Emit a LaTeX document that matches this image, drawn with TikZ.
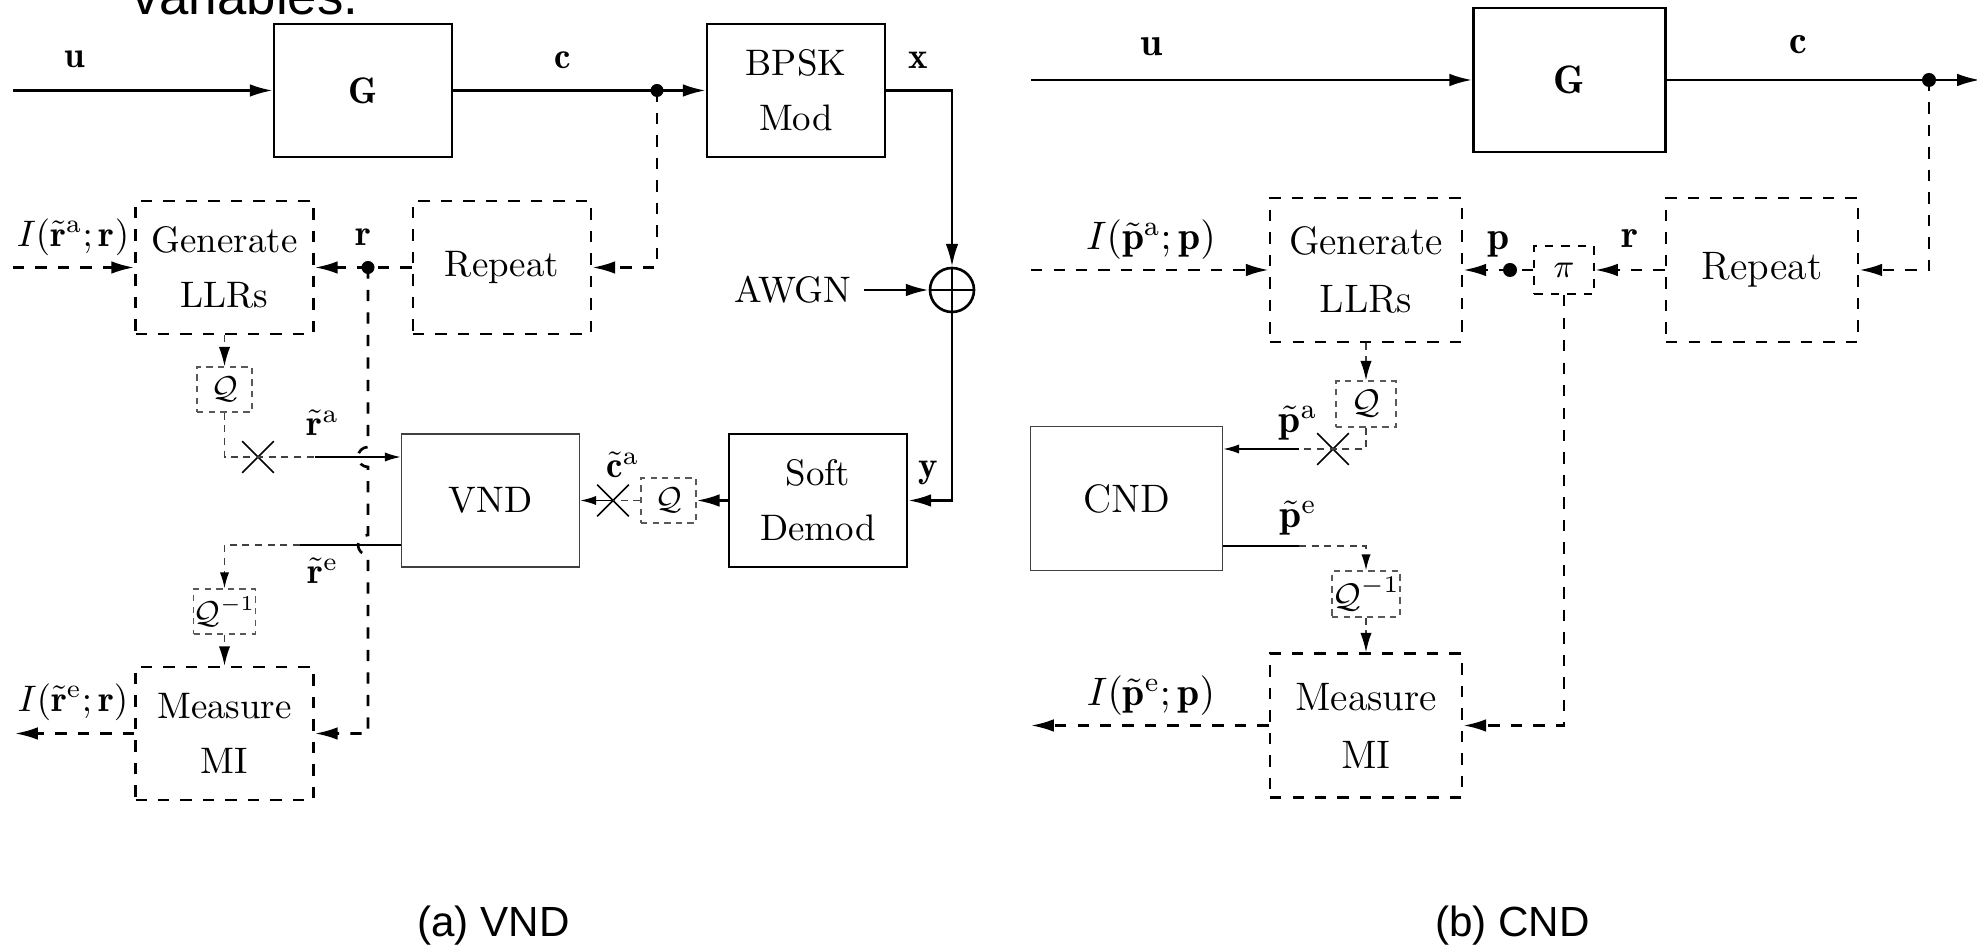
\documentclass[tikz,border=0pt]{standalone}
\usepackage{fix-cm}
\usepackage{fontspec}
\newfontfamily\capfont{Liberation Sans}
\usetikzlibrary{arrows.meta,shapes.misc}

\tikzset{
  blk/.style={draw, line width=0.75pt, align=center, inner sep=0pt, minimum width=1.78cm, minimum height=1.33cm},
  dblk/.style={blk, dash pattern=on 3.2pt off 3.2pt},
  nblk/.style={blk, line width=0.45pt, draw=black!75},
  qblk/.style={draw=black!65, line width=0.4pt, dash pattern=on 1.8pt off 1.5pt, inner sep=0pt, minimum width=0.55cm, minimum height=0.45cm, font=\fontsize{9}{10}\selectfont},
  piblk/.style={draw, line width=0.6pt, dash pattern=on 2.5pt off 2.2pt, inner sep=0pt, minimum width=0.6cm, minimum height=0.48cm, font=\fontsize{9.5}{11}\selectfont},
  xmk/.style={cross out, draw, line width=0.45pt, minimum size=0.3cm, inner sep=0pt},
  thk/.style={line width=0.75pt},
  thkd/.style={thk, dash pattern=on 3.2pt off 3.2pt},
  thn/.style={line width=0.4pt},
  thnd/.style={thn, draw=black!75, dash pattern=on 2pt off 1.6pt},
  big/.tip={Latex[length=6.5pt,width=3.6pt]},
  med/.tip={Latex[length=5.5pt,width=3.2pt,color=black]},
  sml/.tip={Latex[length=4.5pt,width=2.6pt,color=black]},
}

\begin{document}
\begin{tikzpicture}
\useasboundingbox (0,0) rectangle (19.77,-9.45);

\node[font=\capfont\fontsize{15}{18}\selectfont, anchor=base west, inner sep=0pt] (prev) at (1.32,-0.15) {variables.};

% (a) VND
\begin{scope}[font=\fontsize{10.5}{15.7}\selectfont]
  \node[blk] (G1) at (3.63,-0.905) {$\mathbf{G}$};
  \node[blk] (mod) at (7.96,-0.905) {BPSK\\Mod};
  \node[dblk] (gen1) at (2.245,-2.675) {Generate\\LLRs};
  \node[dblk] (rep1) at (5.02,-2.675) {Repeat};
  \node[qblk] (q1) at (2.245,-3.895) {$\mathcal{Q}$};
  \node[nblk] (vnd) at (4.905,-5.005) {VND};
  \node[qblk] (q2) at (6.685,-5.005) {$\mathcal{Q}$};
  \node[blk] (demod) at (8.18,-5.005) {Soft\\Demod};
  \node[qblk] (qi1) at (2.245,-6.115) {$\mathcal{Q}^{-1}$};
  \node[dblk] (meas1) at (2.245,-7.335) {Measure\\MI};
  \node[circle, draw, thk, minimum size=0.44cm, inner sep=0pt] (sum) at (9.52,-2.90) {};
  \node[anchor=east] (awgn) at (8.64,-2.90) {AWGN};
  \node[xmk] (xra) at (2.58,-4.57) {};
  \node[xmk] (xca) at (6.13,-5.005) {};

  \coordinate (in1) at (0.13,-0.905);
  \coordinate (c1) at (6.57,-0.905);
  \coordinate (r1) at (3.68,-2.675);
  \coordinate (ia1) at (0.13,-2.675);
  \coordinate (ie1) at (0.15,-7.335);
  \coordinate (ra1) at (3.15,-4.57);
  \coordinate (re1) at (3.00,-5.45);

  \draw[thk,-big] (in1) -- (G1);
  \draw[thk] (G1) -- (c1);
  \draw[thk,-big] (c1) -- (mod);
  \draw[thk,-big] (mod.east) -| (sum.north);
  \draw[thk] (sum.north) -- (sum.south) (sum.west) -- (sum.east);
  \draw[thk,-big] (awgn) -- (sum);
  \draw[thk,-big] (sum.south) |- (demod.east);
  \draw[thk,-big] (demod) -- (q2);
  \draw[thnd] (q2) -- (xca.center);
  \draw[thn,-sml] (xca.center) -- (vnd);

  \draw[thkd,-big] (c1) |- (rep1.east);
  \draw[thkd] (rep1) -- (r1);
  \draw[thkd,-big] (r1) -- (gen1);
  \draw[thkd,-big] (ia1) -- (gen1);
  \draw[thnd,-med] (gen1) -- (q1);
  \draw[thnd] (q1) |- (xra.center) -- (ra1);
  \draw[thn,-sml] (ra1) -- (vnd.west |- ra1);
  \draw[thn] (vnd.west |- re1) -- (re1);
  \draw[thnd,-sml] (re1) -| (qi1);
  \draw[thnd,-med] (qi1) -- (meas1);
  \draw[thkd,-big] (meas1) -- (ie1);
  % r jumps over the two soft lines
  \draw[thkd,-big] (r1) -- ([yshift=1mm]r1 |- ra1) arc[start angle=90,end angle=270,radius=1mm]
    -- ([yshift=1mm]r1 |- re1) arc[start angle=90,end angle=270,radius=1mm] |- (meas1.east);
  \fill (c1) circle (0.065) (r1) circle (0.065);

  \node (lu1) at (0.75,-0.59) {$\mathbf{u}$};
  \node (lc1) at (5.63,-0.60) {$\mathbf{c}$};
  \node (lx) at (9.18,-0.60) {$\mathbf{x}$};
  \node (ly) at (9.28,-4.73) {$\mathbf{y}$};
  \node (lr1) at (3.63,-2.37) {$\mathbf{r}$};
  \node (lia1) at (0.73,-2.37) {$I(\tilde{\mathbf{r}}^{\mathrm{a}};\mathbf{r})$};
  \node (lie1) at (0.73,-7.02) {$I(\tilde{\mathbf{r}}^{\mathrm{e}};\mathbf{r})$};
  \node (lra) at (3.23,-4.23) {$\tilde{\mathbf{r}}^{\mathrm{a}}$};
  \node (lre) at (3.23,-5.71) {$\tilde{\mathbf{r}}^{\mathrm{e}}$};
  \node (lca) at (6.23,-4.65) {$\tilde{\mathbf{c}}^{\mathrm{a}}$};
\end{scope}

% (b) CND
\begin{scope}[font=\fontsize{11.3}{16.5}\selectfont,
    blk/.append style={minimum width=1.92cm, minimum height=1.44cm},
    qblk/.append style={minimum width=0.6cm, minimum height=0.46cm, font=\fontsize{9.7}{11}\selectfont}]
  \node[blk] (G2) at (15.695,-0.80) {$\mathbf{G}$};
  \node[dblk] (gen2) at (13.66,-2.70) {Generate\\LLRs};
  \node[dblk] (rep2) at (17.62,-2.70) {Repeat};
  \node[piblk] (pi) at (15.64,-2.70) {$\pi$};
  \node[qblk] (q3) at (13.66,-4.04) {$\mathcal{Q}$};
  \node[nblk] (cnd) at (11.265,-4.985) {CND};
  \node[qblk] (qi2) at (13.66,-5.94) {$\mathcal{Q}^{-1}$};
  \node[dblk] (meas2) at (13.66,-7.255) {Measure\\MI};
  \node[xmk] (xpa) at (13.33,-4.49) {};

  \coordinate (in2) at (10.31,-0.80);
  \coordinate (c2) at (19.29,-0.80);
  \coordinate (out2) at (19.80,-0.80);
  \coordinate (p2) at (15.10,-2.70);
  \coordinate (ia2) at (10.31,-2.70);
  \coordinate (ie2) at (10.31,-7.255);
  \coordinate (pa2) at (12.99,-4.49);
  \coordinate (pe2) at (12.99,-5.46);

  \draw[thk,-big] (in2) -- (G2);
  \draw[thk] (G2) -- (c2);
  \draw[thk,-big] (c2) -- (out2);
  \draw[thkd,-big] (c2) |- (rep2.east);
  \draw[thkd,-big] (rep2) -- (pi);
  \draw[thkd] (pi) -- (p2);
  \draw[thkd,-big] (p2) -- (gen2);
  \draw[thkd,-big] (ia2) -- (gen2);
  \draw[thkd,-big] (pi.south) |- (meas2.east);
  \draw[thnd,-med] (gen2) -- (q3);
  \draw[thnd] (q3) |- (xpa.center) -- (pa2);
  \draw[thn,-sml] (pa2) -- (cnd.east |- pa2);
  \draw[thn] (cnd.east |- pe2) -- (pe2);
  \draw[thnd,-sml] (pe2) -| (qi2);
  \draw[thnd,-med] (qi2) -- (meas2);
  \draw[thkd,-big] (meas2) -- (ie2);
  \fill (c2) circle (0.07) (p2) circle (0.07);

  \node (lu2) at (11.52,-0.47) {$\mathbf{u}$};
  \node (lc2) at (17.98,-0.45) {$\mathbf{c}$};
  \node (lp) at (14.99,-2.44) {$\mathbf{p}$};
  \node (lr2) at (16.30,-2.39) {$\mathbf{r}$};
  \node (lia2) at (11.51,-2.40) {$I(\tilde{\mathbf{p}}^{\mathrm{a}};\mathbf{p})$};
  \node (lie2) at (11.51,-6.96) {$I(\tilde{\mathbf{p}}^{\mathrm{e}};\mathbf{p})$};
  \node (lpa) at (12.98,-4.23) {$\tilde{\mathbf{p}}^{\mathrm{a}}$};
  \node (lpe) at (12.98,-5.18) {$\tilde{\mathbf{p}}^{\mathrm{e}}$};
\end{scope}

\node[font=\capfont\fontsize{12}{14}\selectfont, anchor=base] (capa) at (4.935,-9.37) {(a) VND};
\node[font=\capfont\fontsize{12}{14}\selectfont, anchor=base] (capb) at (15.125,-9.37) {(b) CND};
\end{tikzpicture}
\end{document}
